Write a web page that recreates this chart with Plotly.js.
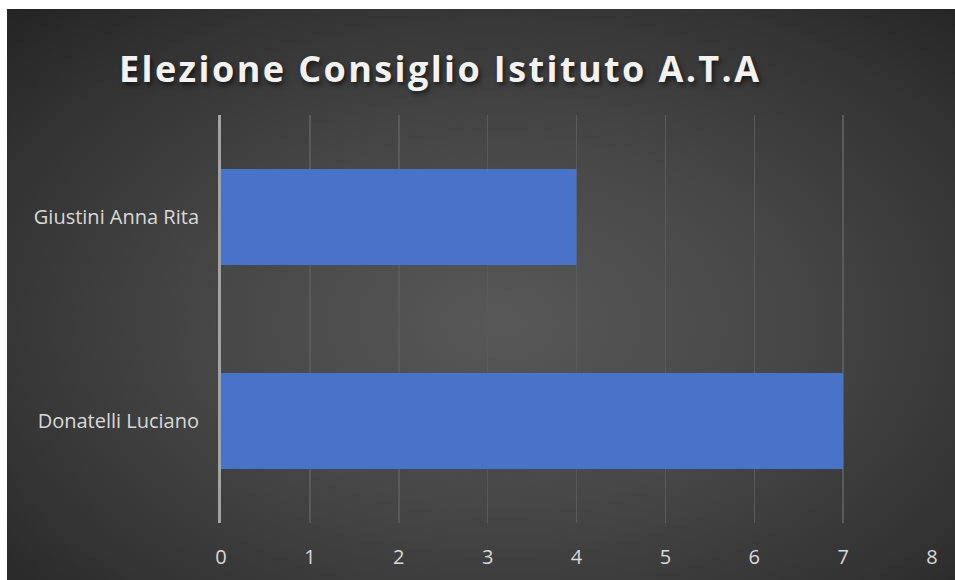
<!DOCTYPE html>
<html>
<head>
<meta charset="utf-8">
<script src="https://cdn.plot.ly/plotly-3.0.1.min.js"></script>
<style>
  html, body { margin: 0; padding: 0; background: #ffffff; }
  #frame { position: absolute; left: 7px; top: 9px; width: 948px; height: 571px;
    background: radial-gradient(ellipse 75% 80% at 52% 55%, #585858 0%, #474747 40%, #333333 75%, #222222 100%); }
  #chart { position: absolute; left: 0; top: 0; width: 955px; height: 580px; }
  .gtitle { letter-spacing: 2.4px; }
</style>
</head>
<body>
<div id="frame"></div>
<div id="chart"></div>
<script>
const categories = ["Donatelli Luciano", "Giustini Anna Rita"];
const votes = [7, 4];
const xTicks = [0, 1, 2, 3, 4, 5, 6, 7, 8];
const chartTitle = "Elezione Consiglio Istituto A.T.A";

const trace = {
  type: "bar",
  orientation: "h",
  y: categories,
  x: votes,
  marker: { color: "#4873c8", line: { width: 0 } },
  hoverinfo: "x+y"
};

const layout = {
  width: 955, height: 580,
  paper_bgcolor: "rgba(0,0,0,0)",
  plot_bgcolor: "rgba(0,0,0,0)",
  margin: { l: 221, r: 23, t: 115, b: 57 },
  bargap: 0.53,
  showlegend: false,
  title: {
    text: "<b>" + chartTitle + "</b>",
    x: 0.461, xanchor: "center", xref: "container",
    y: 0.88, yanchor: "middle", yref: "container",
    font: { family: "Open Sans, sans-serif", size: 36, color: "#f2f2f2",
            shadow: "2px 3px 5px rgba(0,0,0,0.6)" }
  },
  xaxis: {
    range: [0, 8],
    tickvals: xTicks,
    ticktext: xTicks.map(String),
    showgrid: true,
    gridcolor: "#5a5a5a",
    gridwidth: 1.5,
    zeroline: false,
    showline: false,
    ticks: "",
    ticklen: 0,
    ticklabelstandoff: 20,
    tickfont: { family: "Open Sans, sans-serif", size: 20, color: "#d9d9d9" },
    fixedrange: true
  },
  yaxis: {
    type: "category",
    range: [-0.5, 1.5],
    showgrid: false,
    zeroline: false,
    showline: true,
    linecolor: "#a3a3a3",
    linewidth: 3,
    ticks: "",
    ticklabelstandoff: 15,
    tickfont: { family: "Open Sans, sans-serif", size: 20, color: "#d9d9d9" },
    fixedrange: true
  }
};

Plotly.newPlot("chart", [trace], layout, { displayModeBar: false, staticPlot: true });
</script>
</body>
</html>
